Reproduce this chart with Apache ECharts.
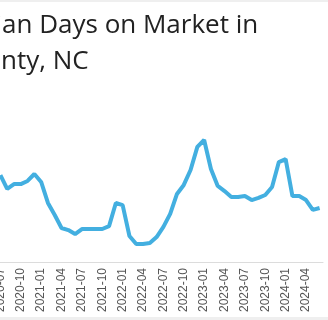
<!DOCTYPE html>
<html>
<head>
<meta charset="utf-8">
<script src="https://cdn.jsdelivr.net/npm/echarts@6/dist/echarts.min.js"></script>
<style>
  html, body { margin: 0; padding: 0; background: #efefef; overflow: hidden; width: 328px; height: 320px; }
  #main { position: absolute; left: -100px; top: 2px; width: 428px; height: 315px; background: #fff; }
</style>
</head>
<body>
<div id="main"></div>
<script>
'use strict';

// monthly categories, 2020-07 .. 2024-06
const months = [
  '2020-07', '2020-08', '2020-09', '2020-10', '2020-11', '2020-12',
  '2021-01', '2021-02', '2021-03', '2021-04', '2021-05', '2021-06',
  '2021-07', '2021-08', '2021-09', '2021-10', '2021-11', '2021-12',
  '2022-01', '2022-02', '2022-03', '2022-04', '2022-05', '2022-06',
  '2022-07', '2022-08', '2022-09', '2022-10', '2022-11', '2022-12',
  '2023-01', '2023-02', '2023-03', '2023-04', '2023-05', '2023-06',
  '2023-07', '2023-08', '2023-09', '2023-10', '2023-11', '2023-12',
  '2024-01', '2024-02', '2024-03', '2024-04', '2024-05', '2024-06'
];

// median days on market
const daysOnMarket = [
  41.4, 34.8, 37.1, 37.1, 38.6, 41.9,
  38.1, 28.1, 22.4, 16.2, 15.2, 13.3,
  15.7, 15.7, 15.7, 15.7, 17.1, 28.1,
  27.1, 12.4, 8.6, 8.6, 9.0, 11.9,
  16.7, 22.9, 32.4, 36.7, 43.8, 54.8,
  58.1, 44.3, 36.2, 33.8, 31.0, 31.0,
  31.4, 29.5, 30.5, 31.9, 35.7, 47.6,
  49.0, 31.4, 31.4, 29.5, 24.8, 25.7
];

const titleLine1 = 'Median Days on Market in';
const titleLine2 = 'County, NC';

const titleFont = 'Open Sans';
const titleSize = 26;

function textWidth(str) {
    let ctx = document.createElement('canvas').getContext('2d');
    ctx.font = `${titleSize}px "${titleFont}"`;
    return ctx.measureText(str).width;
}

window.onload = function () {
    let mChart = echarts.init(document.getElementById('main'));

    let titleStyle = { fontFamily: titleFont, fontSize: titleSize, fontWeight: 'normal', color: '#222' };

    let options = {
        animation: false,
        title: [
            {
                text: titleLine1,
                left: 97 - textWidth('Medi'),
                top: 6,
                textStyle: titleStyle
            },
            {
                text: titleLine2,
                left: 96 - textWidth('Cou'),
                top: 42,
                textStyle: titleStyle
            }
        ],
        grid: { left: 97, right: 5, top: 113, bottom: 55 },
        xAxis: {
            type: 'category',
            data: months,
            boundaryGap: true,
            axisLine: { lineStyle: { color: '#dcdcdc' } },
            axisTick: { interval: 2, length: 4, lineStyle: { color: '#dcdcdc' } },
            axisLabel: {
                interval: 2,
                rotate: 90,
                margin: 6,
                fontFamily: 'Liberation Sans',
                fontSize: 12,
                color: '#555'
            }
        },
        yAxis: {
            type: 'value',
            min: 0,
            max: 70,
            show: false,
            splitLine: { show: false }
        },
        series: [
            {
                type: 'line',
                data: daysOnMarket,
                showSymbol: false,
                lineStyle: { color: '#43afe0', width: 4 }
            }
        ]
    };

    mChart.setOption(options, true);
};
</script>
</body>
</html>
